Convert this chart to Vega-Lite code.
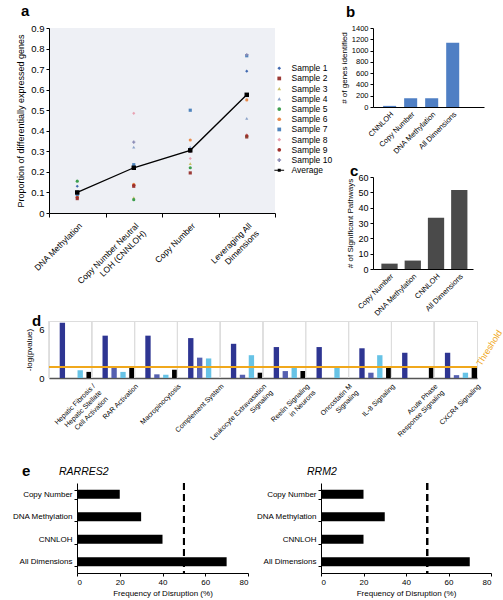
{
  "$schema": "https://vega.github.io/schema/vega-lite/v6.json",
  "background": "white",
  "padding": {"left": 11, "top": 4, "right": 2, "bottom": 1},
  "resolve": {"scale": {"color": "independent", "shape": "independent"}, "legend": {"color": "independent", "shape": "independent"}},
  "config": {
    "font": "Liberation Sans",
    "view": {"stroke": null},
    "axis": {"domainColor": "black", "tickColor": "black", "labelColor": "black", "titleColor": "black", "titleFontWeight": "normal", "grid": false, "labelFont": "Liberation Sans", "titleFont": "Liberation Sans"},
    "title": {"fontSize": 15, "fontWeight": "bold", "anchor": "start", "font": "Liberation Sans", "color": "black", "frame": "group"},
    "legend": {"labelFont": "Liberation Sans", "labelColor": "black"}
  },
  "datasets": {
    "samples": [
      {"dim": "DNA Methylation", "sample": "Sample 1", "value": 0.13},
      {"dim": "DNA Methylation", "sample": "Sample 2", "value": 0.07},
      {"dim": "DNA Methylation", "sample": "Sample 3", "value": 0.085},
      {"dim": "DNA Methylation", "sample": "Sample 4", "value": 0.105},
      {"dim": "DNA Methylation", "sample": "Sample 5", "value": 0.155},
      {"dim": "DNA Methylation", "sample": "Sample 6", "value": 0.08},
      {"dim": "DNA Methylation", "sample": "Sample 7", "value": 0.09},
      {"dim": "DNA Methylation", "sample": "Sample 8", "value": 0.1},
      {"dim": "DNA Methylation", "sample": "Sample 9", "value": 0.075},
      {"dim": "DNA Methylation", "sample": "Sample 10", "value": 0.095},
      {"dim": "DNA Methylation", "sample": "Average", "value": 0.1},
      {"dim": "Copy Number Neutral LOH (CNNLOH)", "sample": "Sample 1", "value": 0.23},
      {"dim": "Copy Number Neutral LOH (CNNLOH)", "sample": "Sample 2", "value": 0.13},
      {"dim": "Copy Number Neutral LOH (CNNLOH)", "sample": "Sample 3", "value": 0.075},
      {"dim": "Copy Number Neutral LOH (CNNLOH)", "sample": "Sample 4", "value": 0.32},
      {"dim": "Copy Number Neutral LOH (CNNLOH)", "sample": "Sample 5", "value": 0.065},
      {"dim": "Copy Number Neutral LOH (CNNLOH)", "sample": "Sample 6", "value": 0.14},
      {"dim": "Copy Number Neutral LOH (CNNLOH)", "sample": "Sample 7", "value": 0.235},
      {"dim": "Copy Number Neutral LOH (CNNLOH)", "sample": "Sample 8", "value": 0.485},
      {"dim": "Copy Number Neutral LOH (CNNLOH)", "sample": "Sample 9", "value": 0.135},
      {"dim": "Copy Number Neutral LOH (CNNLOH)", "sample": "Sample 10", "value": 0.345},
      {"dim": "Copy Number Neutral LOH (CNNLOH)", "sample": "Average", "value": 0.22},
      {"dim": "Copy Number", "sample": "Sample 1", "value": 0.31},
      {"dim": "Copy Number", "sample": "Sample 2", "value": 0.195},
      {"dim": "Copy Number", "sample": "Sample 3", "value": 0.24},
      {"dim": "Copy Number", "sample": "Sample 4", "value": 0.32},
      {"dim": "Copy Number", "sample": "Sample 5", "value": 0.22},
      {"dim": "Copy Number", "sample": "Sample 6", "value": 0.355},
      {"dim": "Copy Number", "sample": "Sample 7", "value": 0.5},
      {"dim": "Copy Number", "sample": "Sample 8", "value": 0.265},
      {"dim": "Copy Number", "sample": "Sample 9", "value": 0.3},
      {"dim": "Copy Number", "sample": "Sample 10", "value": 0.3},
      {"dim": "Copy Number", "sample": "Average", "value": 0.305},
      {"dim": "Leveraging All Dimensions", "sample": "Sample 1", "value": 0.69},
      {"dim": "Leveraging All Dimensions", "sample": "Sample 2", "value": 0.37},
      {"dim": "Leveraging All Dimensions", "sample": "Sample 3", "value": 0.38},
      {"dim": "Leveraging All Dimensions", "sample": "Sample 4", "value": 0.46},
      {"dim": "Leveraging All Dimensions", "sample": "Sample 5", "value": 0.375},
      {"dim": "Leveraging All Dimensions", "sample": "Sample 6", "value": 0.55},
      {"dim": "Leveraging All Dimensions", "sample": "Sample 7", "value": 0.765},
      {"dim": "Leveraging All Dimensions", "sample": "Sample 8", "value": 0.38},
      {"dim": "Leveraging All Dimensions", "sample": "Sample 9", "value": 0.375},
      {"dim": "Leveraging All Dimensions", "sample": "Sample 10", "value": 0.77},
      {"dim": "Leveraging All Dimensions", "sample": "Average", "value": 0.575}
    ],
    "genes": [
      {"dimension": "CNNLOH", "genes": 20},
      {"dimension": "Copy Number", "genes": 155},
      {"dimension": "DNA Methylation", "genes": 155},
      {"dimension": "All Dimensions", "genes": 1140}
    ],
    "pathways": [
      {"dimension": "Copy Number", "pathways": 3.5},
      {"dimension": "DNA Methylation", "pathways": 5.5},
      {"dimension": "CNNLOH", "pathways": 33.5},
      {"dimension": "All Dimensions", "pathways": 51.5}
    ],
    "ipa": [
      {"pathway": "Hepatic Fibrosis / Hepatic Stellate Cell Activation", "dimension": "All Dimensions", "value": 6.8},
      {"pathway": "Hepatic Fibrosis / Hepatic Stellate Cell Activation", "dimension": "DNA Methylation", "value": 0.95},
      {"pathway": "Hepatic Fibrosis / Hepatic Stellate Cell Activation", "dimension": "CNNLOH", "value": 0.75},
      {"pathway": "RAR Activation", "dimension": "All Dimensions", "value": 5.2},
      {"pathway": "RAR Activation", "dimension": "Copy Number", "value": 1.3},
      {"pathway": "RAR Activation", "dimension": "DNA Methylation", "value": 0.75},
      {"pathway": "RAR Activation", "dimension": "CNNLOH", "value": 1.45},
      {"pathway": "Macropinocytosis", "dimension": "All Dimensions", "value": 5.2},
      {"pathway": "Macropinocytosis", "dimension": "Copy Number", "value": 0.45},
      {"pathway": "Macropinocytosis", "dimension": "DNA Methylation", "value": 0.4},
      {"pathway": "Macropinocytosis", "dimension": "CNNLOH", "value": 1.0},
      {"pathway": "Complement System", "dimension": "All Dimensions", "value": 4.9},
      {"pathway": "Complement System", "dimension": "Copy Number", "value": 2.5},
      {"pathway": "Complement System", "dimension": "DNA Methylation", "value": 2.4},
      {"pathway": "Leukocyte Extravasation Signaling", "dimension": "All Dimensions", "value": 4.2},
      {"pathway": "Leukocyte Extravasation Signaling", "dimension": "Copy Number", "value": 0.4},
      {"pathway": "Leukocyte Extravasation Signaling", "dimension": "DNA Methylation", "value": 2.8},
      {"pathway": "Leukocyte Extravasation Signaling", "dimension": "CNNLOH", "value": 0.65},
      {"pathway": "Reelin Signaling in Neurons", "dimension": "All Dimensions", "value": 3.8},
      {"pathway": "Reelin Signaling in Neurons", "dimension": "Copy Number", "value": 0.85},
      {"pathway": "Reelin Signaling in Neurons", "dimension": "DNA Methylation", "value": 1.45},
      {"pathway": "Reelin Signaling in Neurons", "dimension": "CNNLOH", "value": 0.85},
      {"pathway": "Oncostatin M Signaling", "dimension": "All Dimensions", "value": 3.8},
      {"pathway": "Oncostatin M Signaling", "dimension": "DNA Methylation", "value": 1.25},
      {"pathway": "IL-8 Signaling", "dimension": "All Dimensions", "value": 3.65},
      {"pathway": "IL-8 Signaling", "dimension": "Copy Number", "value": 0.65},
      {"pathway": "IL-8 Signaling", "dimension": "DNA Methylation", "value": 2.8},
      {"pathway": "IL-8 Signaling", "dimension": "CNNLOH", "value": 1.4},
      {"pathway": "Acute Phase Response Signaling", "dimension": "All Dimensions", "value": 3.1},
      {"pathway": "Acute Phase Response Signaling", "dimension": "CNNLOH", "value": 1.3},
      {"pathway": "CXCR4 Signaling", "dimension": "All Dimensions", "value": 3.1},
      {"pathway": "CXCR4 Signaling", "dimension": "Copy Number", "value": 0.35},
      {"pathway": "CXCR4 Signaling", "dimension": "DNA Methylation", "value": 0.65},
      {"pathway": "CXCR4 Signaling", "dimension": "CNNLOH", "value": 1.45}
    ],
    "disruption": [
      {"gene": "RARRES2", "dimension": "Copy Number", "frequency": 20},
      {"gene": "RARRES2", "dimension": "DNA Methylation", "frequency": 30},
      {"gene": "RARRES2", "dimension": "CNNLOH", "frequency": 40},
      {"gene": "RARRES2", "dimension": "All Dimensions", "frequency": 70},
      {"gene": "RRM2", "dimension": "Copy Number", "frequency": 20},
      {"gene": "RRM2", "dimension": "DNA Methylation", "frequency": 30},
      {"gene": "RRM2", "dimension": "CNNLOH", "frequency": 20},
      {"gene": "RRM2", "dimension": "All Dimensions", "frequency": 70}
    ]
  },
  "vconcat": [
    {
      "hconcat": [
        {
          "title": {"text": "a", "dx": -28, "offset": 4},
          "width": 226,
          "height": 185,
          "view": {"fill": "#eef0f5", "stroke": null},
          "data": {"name": "samples"},
          "encoding": {
            "x": {"field": "dim", "type": "nominal", "sort": ["DNA Methylation", "Copy Number Neutral LOH (CNNLOH)", "Copy Number", "Leveraging All Dimensions"], "scale": {"paddingInner": 0, "paddingOuter": 0},
              "axis": {"title": null, "labelAngle": -45, "labelAlign": "right", "labelBaseline": "top", "labelFontSize": 8.5, "tickBand": "extent", "tickSize": 4, "labelPadding": 4,
                "labelExpr": "datum.value == 'Copy Number Neutral LOH (CNNLOH)' ? ['Copy Number Neutral', 'LOH (CNNLOH)'] : datum.value == 'Leveraging All Dimensions' ? ['Leveraging All', 'Dimensions'] : datum.label"}},
            "y": {"field": "value", "type": "quantitative", "scale": {"domain": [0, 0.9]},
              "axis": {"values": [0, 0.1, 0.2, 0.3, 0.4, 0.5, 0.6, 0.7, 0.8, 0.9], "format": ".1~f", "title": "Proportion of  differentially expressed genes", "titleFontSize": 9, "labelFontSize": 9.5, "tickSize": 3, "titlePadding": 5}}
          },
          "layer": [
            {
              "transform": [{"filter": "datum.sample !== 'Average'"}],
              "mark": {"type": "point", "filled": true, "opacity": 1, "size": 10},
              "encoding": {
                "color": {"field": "sample", "type": "nominal",
                  "scale": {"domain": ["Sample 1", "Sample 2", "Sample 3", "Sample 4", "Sample 5", "Sample 6", "Sample 7", "Sample 8", "Sample 9", "Sample 10", "Average"],
                    "range": ["#4169b0", "#9c3a36", "#c9c06a", "#8ba3c9", "#3e9f4f", "#e88c4e", "#4f84bd", "#e9a3b3", "#a0302c", "#8a8ab4", "#000000"]},
                  "legend": {"title": null, "orient": "none", "legendX": 226, "legendY": 36, "labelFontSize": 8.5, "symbolSize": 14, "rowPadding": 1.2, "padding": 0, "labelOffset": 8, "symbolStrokeWidth": 0}},
                "shape": {"field": "sample", "type": "nominal",
                  "scale": {"domain": ["Sample 1", "Sample 2", "Sample 3", "Sample 4", "Sample 5", "Sample 6", "Sample 7", "Sample 8", "Sample 9", "Sample 10", "Average"],
                    "range": ["diamond", "square", "triangle-up", "triangle-up", "circle", "circle", "square", "diamond", "circle", "cross", "M-2.6,-0.22H2.6V0.22H-2.6Z M-0.8,-0.8H0.8V0.8H-0.8Z"]},
                  "legend": {"title": null, "orient": "none", "legendX": 226, "legendY": 36, "labelFontSize": 8.5, "symbolSize": 14, "rowPadding": 1.2, "padding": 0, "labelOffset": 8, "symbolStrokeWidth": 0}}
              }
            },
            {
              "transform": [{"filter": "datum.sample === 'Average'"}],
              "mark": {"type": "line", "color": "black", "strokeWidth": 1.3}
            },
            {
              "transform": [{"filter": "datum.sample === 'Average'"}],
              "mark": {"type": "square", "color": "black", "size": 20, "opacity": 1}
            }
          ]
        },
        {
          "vconcat": [
            {
              "title": {"text": "b", "dx": -27, "offset": 4},
              "width": 111,
              "height": 79,
              "data": {"name": "genes"},
              "mark": {"type": "bar", "color": "#4f7fc4"},
              "encoding": {
                "x": {"field": "dimension", "type": "nominal", "sort": null, "scale": {"paddingInner": 0.38, "paddingOuter": 0.83, "align": 0.29},
                  "axis": {"title": null, "labelAngle": -45, "labelAlign": "right", "labelBaseline": "top", "labelFontSize": 7.5, "tickSize": 0, "labelPadding": 3}},
                "y": {"field": "genes", "type": "quantitative", "scale": {"domain": [0, 1400]},
                  "axis": {"values": [0, 200, 400, 600, 800, 1000, 1200, 1400], "format": "d", "title": "# of genes identified", "titleFontSize": 8, "labelFontSize": 7.5, "tickSize": 3, "titlePadding": 3, "labelOverlap": false}}
              }
            },
            {
              "title": {"text": "c", "dx": -23, "offset": -6},
              "width": 100,
              "height": 92,
              "data": {"name": "pathways"},
              "mark": {"type": "bar", "color": "#4a4a4a"},
              "encoding": {
                "x": {"field": "dimension", "type": "nominal", "sort": null, "scale": {"paddingInner": 0.3, "paddingOuter": 0.3, "align": 0.6},
                  "axis": {"title": null, "labelAngle": -45, "labelAlign": "right", "labelBaseline": "top", "labelFontSize": 7.5, "tickSize": 0, "labelPadding": 3}},
                "y": {"field": "pathways", "type": "quantitative", "scale": {"domain": [0, 60]},
                  "axis": {"values": [0, 10, 20, 30, 40, 50, 60], "title": "# of Significant Pathways", "titleFontSize": 8, "labelFontSize": 9, "tickSize": 3, "titlePadding": 3}}
              }
            }
          ],
          "spacing": 8
        }
      ],
      "spacing": 64
    },
    {
      "vconcat": [
        {
          "title": {"text": "d", "dx": -17, "offset": -8},
          "width": 428,
          "height": 57,
          "view": {"stroke": "#dddddd"},
          "data": {"name": "ipa"},
          "layer": [
            {
              "mark": {"type": "bar"},
              "encoding": {
                "x": {"field": "pathway", "type": "nominal",
                  "sort": ["Hepatic Fibrosis / Hepatic Stellate Cell Activation", "RAR Activation", "Macropinocytosis", "Complement System", "Leukocyte Extravasation Signaling", "Reelin Signaling in Neurons", "Oncostatin M Signaling", "IL-8 Signaling", "Acute Phase Response Signaling", "CXCR4 Signaling"],
                  "scale": {"paddingInner": 0, "paddingOuter": 0},
                  "axis": {"title": null, "labelAngle": -45, "labelAlign": "right", "labelBaseline": "top", "tickSize": 0, "domainColor": "#555555", "domainWidth": 1.5, "labelFontSize": 7, "labelPadding": 4, "labelOffset": 21,
                    "labelExpr": "datum.value == 'Hepatic Fibrosis / Hepatic Stellate Cell Activation' ? ['Hepatic Fibrosis /', 'Hepatic Stellate', 'Cell Activation'] : datum.value == 'Leukocyte Extravasation Signaling' ? ['Leukocyte Extravasation', 'Signaling'] : datum.value == 'Reelin Signaling in Neurons' ? ['Reelin Signaling', 'in Neurons'] : datum.value == 'Oncostatin M Signaling' ? ['Oncostatin M', 'Signaling'] : datum.value == 'Acute Phase Response Signaling' ? ['Acute Phase', 'Response Signaling'] : datum.label"}},
                "xOffset": {"field": "dimension", "type": "nominal", "scale": {"domain": ["All Dimensions", "Copy Number", "DNA Methylation", "CNNLOH"], "paddingInner": 0.4, "paddingOuter": 0.6, "align": 1}},
                "y": {"field": "value", "type": "quantitative", "scale": {"domain": [0, 7]},
                  "axis": {"values": [0, 2, 4, 6], "title": "-log(pvalue)", "domain": false, "tickSize": 0, "labelFontSize": 9.5, "titleFontSize": 8, "titlePadding": 5, "labelOverlap": false, "labelBound": false, "labelFlush": false, "labelPadding": 5}},
                "color": {"field": "dimension", "type": "nominal", "scale": {"domain": ["All Dimensions", "Copy Number", "DNA Methylation", "CNNLOH"], "range": ["#2e3592", "#5560b0", "#67c3e6", "#000000"]}, "legend": null}
              }
            },
            {
              "mark": {"type": "rule", "color": "#dddddd", "strokeWidth": 1},
              "encoding": {"x": {"field": "pathway", "type": "nominal", "bandPosition": 0,
                "sort": ["Hepatic Fibrosis / Hepatic Stellate Cell Activation", "RAR Activation", "Macropinocytosis", "Complement System", "Leukocyte Extravasation Signaling", "Reelin Signaling in Neurons", "Oncostatin M Signaling", "IL-8 Signaling", "Acute Phase Response Signaling", "CXCR4 Signaling"]}}
            },
            {
              "mark": {"type": "rule", "color": "#f0a81c", "strokeWidth": 1.2},
              "encoding": {"y": {"datum": 1.3}}
            },
            {
              "data": {"values": [{"pathway": "CXCR4 Signaling", "label": "Threshold"}]},
              "mark": {"type": "text", "angle": 302, "align": "left", "baseline": "middle", "color": "#f0a81c", "fontSize": 9, "dx": 3},
              "encoding": {
                "x": {"field": "pathway", "type": "nominal", "bandPosition": 1,
                  "sort": ["Hepatic Fibrosis / Hepatic Stellate Cell Activation", "RAR Activation", "Macropinocytosis", "Complement System", "Leukocyte Extravasation Signaling", "Reelin Signaling in Neurons", "Oncostatin M Signaling", "IL-8 Signaling", "Acute Phase Response Signaling", "CXCR4 Signaling"]},
                "y": {"datum": 1.3},
                "text": {"field": "label"}
              }
            }
          ]
        },
        {
          "hconcat": [
            {
              "title": {"text": "e", "dx": -27, "offset": 4},
              "width": 1,
              "height": 90,
              "data": {"values": [{"blank": ""}]},
              "mark": {"type": "text", "opacity": 0},
              "encoding": {"text": {"field": "blank"}}
            },
            {
              "hconcat": [
                {
                  "title": {"text": "RARRES2", "fontStyle": "italic", "fontWeight": "normal", "fontSize": 10.5, "dx": -18, "offset": 2},
                  "width": 171,
                  "height": 90,
                  "data": {"name": "disruption"},
                  "transform": [{"filter": "datum.gene === 'RARRES2'"}],
                  "layer": [
                    {
                      "mark": {"type": "bar", "color": "black"},
                      "encoding": {
                        "y": {"field": "dimension", "type": "nominal", "sort": ["Copy Number", "DNA Methylation", "CNNLOH", "All Dimensions"], "scale": {"paddingInner": 0.6, "paddingOuter": 0.3},
                          "axis": {"title": null, "tickBand": "extent", "labelFontSize": 8, "tickSize": 3, "labelPadding": 2}},
                        "x": {"field": "frequency", "type": "quantitative", "scale": {"domain": [0, 80]},
                          "axis": {"values": [0, 10, 20, 30, 40, 50, 60, 70, 80], "title": "Frequency of Disruption (%)", "labelFontSize": 8, "titleFontSize": 8, "tickSize": 3, "titlePadding": 3}}
                      }
                    },
                    {
                      "mark": {"type": "rule", "strokeDash": [7, 4], "strokeWidth": 1.8, "color": "black"},
                      "encoding": {"x": {"datum": 50}}
                    }
                  ]
                },
                {
                  "title": {"text": "RRM2", "fontStyle": "italic", "fontWeight": "normal", "fontSize": 10.5, "dx": -14, "offset": 2},
                  "width": 170,
                  "height": 90,
                  "data": {"name": "disruption"},
                  "transform": [{"filter": "datum.gene === 'RRM2'"}],
                  "layer": [
                    {
                      "mark": {"type": "bar", "color": "black"},
                      "encoding": {
                        "y": {"field": "dimension", "type": "nominal", "sort": ["Copy Number", "DNA Methylation", "CNNLOH", "All Dimensions"], "scale": {"paddingInner": 0.6, "paddingOuter": 0.3},
                          "axis": {"title": null, "tickBand": "extent", "labelFontSize": 8, "tickSize": 3, "labelPadding": 2}},
                        "x": {"field": "frequency", "type": "quantitative", "scale": {"domain": [0, 80]},
                          "axis": {"values": [0, 10, 20, 30, 40, 50, 60, 70, 80], "title": "Frequency of Disruption (%)", "labelFontSize": 8, "titleFontSize": 8, "tickSize": 3, "titlePadding": 3}}
                      }
                    },
                    {
                      "mark": {"type": "rule", "strokeDash": [7, 4], "strokeWidth": 1.8, "color": "black"},
                      "encoding": {"x": {"datum": 50}}
                    }
                  ]
                }
              ],
              "spacing": 6
            }
          ],
          "spacing": -39
        }
      ],
      "spacing": 16
    }
  ],
  "spacing": -5
}
